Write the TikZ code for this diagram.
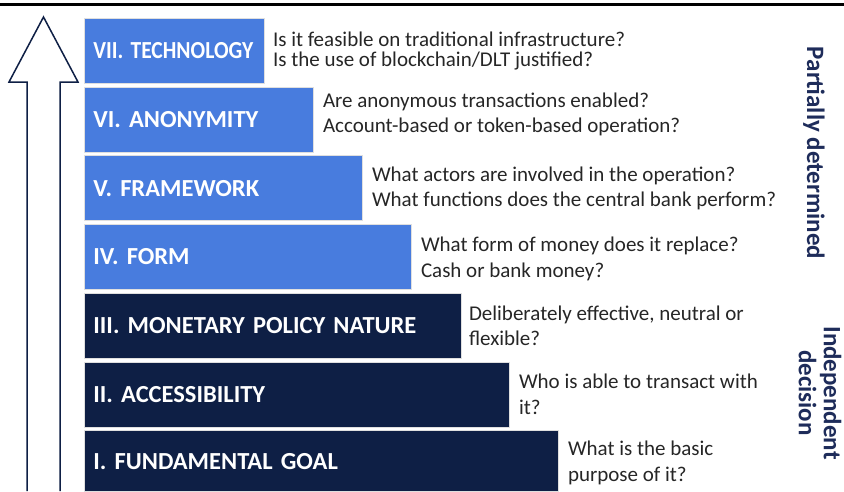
\documentclass[tikz,border=0pt]{standalone}
\usepackage{fontspec}
\setmainfont{Carlito}
\usepackage{graphicx}
\definecolor{lightblue}{RGB}{72,124,222}
\definecolor{darknavy}{RGB}{14,31,69}
\definecolor{qgray}{RGB}{38,38,38}
\definecolor{sidenavy}{RGB}{30,44,90}
\frenchspacing

\begin{document}
\begin{tikzpicture}[x=1pt,y=-1pt]
\tikzstyle{level}=[rectangle,anchor=north west,minimum height=65pt,inner xsep=9pt,inner ysep=0pt,align=left,text=white,draw=gray!25,line width=0.8pt,font=\fontsize{24.5}{27}\selectfont\bfseries]
\tikzstyle{light}=[level,fill=lightblue]
\tikzstyle{dark}=[level,fill=darknavy]
\tikzstyle{question}=[anchor=west,align=left,text=qgray,inner sep=0pt,font=\fontsize{21}{25.5}\selectfont]
\tikzstyle{side}=[rotate=-90,align=center,text=sidenavy,font=\fontsize{25}{25}\selectfont\bfseries]
\useasboundingbox (0,0) rectangle (844,491);
% top rule
\draw[line width=3pt] (0,4) -- (844,4);
% upward arrow
\draw[darknavy,line width=1.5pt,fill=white,line join=miter] (27,491) -- (27,82) -- (9,82) -- (43.5,17) -- (78,82) -- (60,82) -- (60,491);
% steps
\node[light,text width=162pt] (tech) at (84,18) {\scalebox{0.88}[1]{VII. TECHNOLOGY}};
\node[light,text width=211pt] (anon) at (84,86.7) {VI. ANONYMITY};
\node[light,text width=260pt] (frame) at (84,155.4) {V. FRAMEWORK};
\node[light,text width=309pt] (form) at (84,224.1) {IV. FORM};
\node[dark,text width=359pt] (policy) at (84,292.8) {III. MONETARY POLICY NATURE};
\node[dark,text width=407pt] (access) at (84,361.5) {II. ACCESSIBILITY};
\node[dark,text width=456pt,minimum height=61pt] (goal) at (84,430.2) {I. FUNDAMENTAL GOAL};
% questions
\node[question,font=\fontsize{21}{20}\selectfont] (qtech) at ([xshift=8pt]tech.east) {Is it feasible on traditional infrastructure?\\Is the use of blockchain/DLT justified?};
\node[question] (qanon) at ([xshift=9pt,yshift=5pt]anon.east) {Are anonymous transactions enabled?\\Account-based or token-based operation?};
\node[question] (qframe) at ([xshift=9pt]frame.east) {What actors are involved in the operation?\\What functions does the central bank perform?};
\node[question] (qform) at ([xshift=9pt,yshift=-2pt]form.east) {What form of money does it replace?\\Cash or bank money?};
\node[question] (qpolicy) at ([xshift=7pt]policy.east) {Deliberately effective, neutral or\\flexible?};
\node[question] (qaccess) at ([xshift=9pt]access.east) {Who is able to transact with\\it?};
\node[question] (qgoal) at ([xshift=9pt,yshift=-2pt]goal.east) {What is the basic\\purpose of it?};
% side labels
\node[side] (partial) at (814,153) {Partially determined};
\node[side] (indep) at (820,393) {Independent\\decision};
\end{tikzpicture}
\end{document}
